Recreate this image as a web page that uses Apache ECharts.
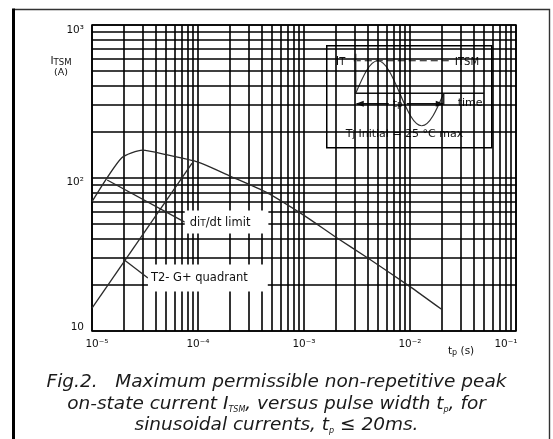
<!DOCTYPE html>
<html>
<head>
<meta charset="utf-8">
<script src="https://cdn.jsdelivr.net/npm/echarts@6/dist/echarts.min.js"></script>
<style>
  html, body { margin: 0; padding: 0; background: #fff; }
  #chart { width: 553px; height: 439px; }
</style>
</head>
<body>
<div id="chart"></div>
<script>
// Peak surge current rating: pulse width tp (s) vs ITSM (A)
const tpMain   = [1e-5, 1.9e-5, 3e-5, 5e-5, 1e-4, 2e-4, 4.5e-4, 1e-3, 2e-3, 4e-3, 1e-2, 2e-2];
const itsmMain = [70, 135, 152, 142, 127, 103, 80, 57, 41, 30, 19.5, 13.8];

// T2- G+ quadrant limit
const tpQuad   = [1e-5, 8.8e-5];
const itsmQuad = [14.1, 125];

// Leader lines from the curves to their annotations
const tpLeadDidt = [1.39e-5, 7.5e-5];
const iLeadDidt  = [97, 51.5];
const tpLeadQuad = [2.05e-5, 3.37e-5];
const iLeadQuad  = [28.9, 22.2];

// Decade tick labels
const xTickExps   = [-5, -4, -3, -2, -1];
const xTickLabels = ['10⁻⁵', '10⁻⁴', '10⁻³', '10⁻²', '10⁻¹'];
const yTickExps   = [1, 2, 3];
const yTickLabels = ['10', '10²', '10³'];

const FONT = '"DejaVu Sans", "Liberation Sans", Arial, sans-serif';
const INK = '#111';

// 1..9 x 10^e gridline values for a log axis
function logGrid(e0, e1) {
  const v = [];
  for (let e = e0; e < e1; e++) {
    for (let m = 1; m <= 9; m++) v.push(m * Math.pow(10, e));
  }
  v.push(Math.pow(10, e1));
  return v;
}
const xGrid = logGrid(-5, -1);
const yGrid = logGrid(1, 3);

const pairs = (xs, ys) => xs.map((x, i) => [x, ys[i]]);

// Quarter-wave cubic approximation of one sine period (inset sketch)
function sineCurves(x0, y0, q, A, style) {
  const k1 = 0.3261, k2 = 0.6381, c = 0.5123;
  const segs = [
    [x0, y0, x0 + k1 * q, y0 - c * A, x0 + k2 * q, y0 - A, x0 + q, y0 - A],
    [x0 + q, y0 - A, x0 + (2 - k2) * q, y0 - A, x0 + (2 - k1) * q, y0 - c * A, x0 + 2 * q, y0],
    [x0 + 2 * q, y0, x0 + (2 + k1) * q, y0 + c * A, x0 + (2 + k2) * q, y0 + A, x0 + 3 * q, y0 + A],
    [x0 + 3 * q, y0 + A, x0 + (4 - k2) * q, y0 + A, x0 + (4 - k1) * q, y0 + c * A, x0 + 4 * q, y0]
  ];
  return segs.map(s => ({
    type: 'bezierCurve',
    shape: { x1: s[0], y1: s[1], cpx1: s[2], cpy1: s[3], cpx2: s[4], cpy2: s[5], x2: s[6], y2: s[7] },
    style: style
  }));
}

const subRich = { fontSize: 9, fontFamily: FONT, color: INK, verticalAlign: 'bottom', lineHeight: 9 };

const chart = echarts.init(document.getElementById('chart'), null, { renderer: 'canvas' });

const curveStyle = { color: '#2a2a2a', width: 1.3 };

const option = {
  animation: false,
  backgroundColor: '#fff',
  grid: {
    left: 92, right: 37, top: 25, bottom: 108,
    show: true, backgroundColor: '#fff', borderColor: '#000', borderWidth: 1.6,
    outerBoundsMode: 'none'
  },
  xAxis: {
    type: 'log', logBase: 10, min: 1e-5, max: 1e-1, interval: 1,
    axisLine: { show: false }, axisTick: { show: false },
    splitLine: { show: false }, minorTick: { show: false },
    nameMoveOverlap: false,
    name: 't{s|p} (s)',
    nameLocation: 'end', nameGap: -68,
    nameTextStyle: {
      fontFamily: FONT, fontSize: 10.5, color: INK,
      align: 'left', verticalAlign: 'top', padding: [15, 0, 0, 0],
      rich: { s: { fontSize: 8, fontFamily: FONT, color: INK, verticalAlign: 'bottom', lineHeight: 8 } }
    },
    axisLabel: {
      margin: 8, showMinLabel: true, showMaxLabel: true,
      fontFamily: FONT, fontSize: 10.5, color: INK,
      formatter: function (v) {
        const e = Math.round(Math.log10(v));
        const i = xTickExps.indexOf(e);
        if (i < 0) return '';
        const st = i === 0 ? 'lo' : (i === xTickExps.length - 1 ? 'hi' : 'n');
        return '{' + st + '|' + xTickLabels[i] + '}';
      },
      rich: {
        n:  { fontFamily: FONT, fontSize: 10.5, color: INK },
        lo: { fontFamily: FONT, fontSize: 10.5, color: INK, padding: [0, 0, 0, 10] },
        hi: { fontFamily: FONT, fontSize: 10.5, color: INK, padding: [0, 20, 0, 0] }
      }
    }
  },
  yAxis: {
    type: 'log', logBase: 10, min: 10, max: 1000, interval: 1,
    axisLine: { show: false }, axisTick: { show: false },
    splitLine: { show: false }, minorTick: { show: false },
    nameMoveOverlap: false,
    name: '{i|I}{s|TSM}\n{a|(A)}',
    nameLocation: 'end', nameGap: -30,
    nameTextStyle: {
      fontFamily: FONT, color: INK, align: 'center', verticalAlign: 'top',
      padding: [0, 62, 0, 0],
      rich: {
        i: { fontSize: 10.5, fontFamily: FONT, color: INK, align: 'center', lineHeight: 12 },
        s: { fontSize: 8.5, fontFamily: FONT, color: INK, align: 'center', verticalAlign: 'bottom', lineHeight: 8 },
        a: { fontSize: 9.5, fontFamily: FONT, color: INK, align: 'center', lineHeight: 12 }
      }
    },
    axisLabel: {
      margin: 8, showMinLabel: true, showMaxLabel: true,
      fontFamily: FONT, fontSize: 10.5, color: INK,
      formatter: function (v) {
        const e = Math.round(Math.log10(v));
        const i = yTickExps.indexOf(e);
        if (i < 0) return '';
        const st = ['b', 'm', 't'][i];
        return '{' + st + '|' + yTickLabels[i] + '}';
      },
      rich: {
        t: { fontFamily: FONT, fontSize: 10.5, color: INK, padding: [10, 0, 0, 0] },
        m: { fontFamily: FONT, fontSize: 10.5, color: INK, padding: [8, 0, 0, 0] },
        b: { fontFamily: FONT, fontSize: 10.5, color: INK, padding: [0, 0, 8, 0] }
      }
    }
  },
  series: [
    {
      // log grid (decades and 2..9 subdivisions)
      name: 'grid', type: 'line', data: [], silent: true, z: 1,
      markLine: {
        silent: true, symbol: 'none', z: 1, animation: false,
        precision: 20,
        label: { show: false },
        emphasis: { disabled: true },
        lineStyle: { color: '#000', width: 1.6, type: 'solid' },
        data: xGrid.map(v => ({ xAxis: v })).concat(yGrid.map(v => ({ yAxis: v })))
      }
    },
    {
      name: 'ITSM', type: 'line', z: 3, silent: true,
      data: pairs(tpMain, itsmMain),
      symbol: 'none', smooth: 0.2,
      lineStyle: curveStyle
    },
    {
      name: 'T2- G+ quadrant', type: 'line', z: 3, silent: true,
      data: pairs(tpQuad, itsmQuad),
      symbol: 'none',
      lineStyle: curveStyle
    },
    {
      name: 'dI/dt leader', type: 'line', z: 4, silent: true,
      data: pairs(tpLeadDidt, iLeadDidt),
      symbol: 'none',
      lineStyle: curveStyle,
      endLabel: {
        show: true, distance: 0,
        formatter: 'di{s|T}/dt limit',
        fontFamily: FONT, fontSize: 11.5, color: INK,
        backgroundColor: '#fff', padding: [6, 18, 5, 5],
        rich: { s: { fontSize: 9, fontFamily: FONT, color: INK, verticalAlign: 'bottom', lineHeight: 9 } }
      }
    },
    {
      name: 'quadrant leader', type: 'line', z: 4, silent: true,
      data: pairs(tpLeadQuad, iLeadQuad),
      symbol: 'none',
      lineStyle: curveStyle,
      endLabel: {
        show: true, distance: 0,
        formatter: 'T2- G+ quadrant',
        fontFamily: FONT, fontSize: 11.5, color: INK,
        backgroundColor: '#fff', padding: [8, 20, 7, 3]
      }
    }
  ],
  graphic: [
    {
      // page frame
      type: 'polyline', z: 50, silent: true,
      shape: { points: [[549.5, 440], [549.5, 9.5], [13.5, 9.5]] },
      style: { fill: null, stroke: '#333', lineWidth: 1.4 }
    },
    {
      type: 'line', z: 50, silent: true,
      shape: { x1: 13.5, y1: 8.5, x2: 13.5, y2: 440 },
      style: { stroke: '#000', lineWidth: 3 }
    },
    {
      // inset: sinusoidal pulse definition
      type: 'group', left: 326, top: 45, z: 100, silent: true,
      children: [
        { type: 'rect', shape: { x: 0, y: 0, width: 165, height: 102 },
          style: { fill: '#fff', stroke: '#000', lineWidth: 1.5 } },
        { type: 'line', shape: { x1: 27, y1: 15, x2: 126, y2: 15 },
          style: { stroke: '#111', lineWidth: 1.2, lineDash: [7, 4] } },
        { type: 'line', shape: { x1: 29, y1: 8, x2: 29, y2: 48 },
          style: { stroke: '#9a9a9a', lineWidth: 2 } },
        { type: 'line', shape: { x1: 29, y1: 47.5, x2: 157, y2: 47.5 },
          style: { stroke: '#111', lineWidth: 1.5 } }
      ].concat(sineCurves(29, 47.5, 22, 32.5, { fill: null, stroke: '#333', lineWidth: 1.2 })).concat([
        { type: 'line', shape: { x1: 117, y1: 47.5, x2: 117, y2: 59 },
          style: { stroke: '#111', lineWidth: 1.3 } },
        { type: 'line', shape: { x1: 30, y1: 58, x2: 62, y2: 58 },
          style: { stroke: '#111', lineWidth: 1.3 } },
        { type: 'line', shape: { x1: 80, y1: 58, x2: 116, y2: 58 },
          style: { stroke: '#111', lineWidth: 1.3 } },
        { type: 'polygon', shape: { points: [[29, 58], [37, 55], [37, 61]] },
          style: { fill: '#111' } },
        { type: 'polygon', shape: { points: [[117, 58], [109, 55], [109, 61]] },
          style: { fill: '#111' } },
        { type: 'text', x: 71, y: 58,
          style: { text: 't{s|p}', font: '11px ' + FONT, fill: INK, align: 'center', verticalAlign: 'middle',
                   rich: { s: subRich } } },
        { type: 'text', x: 9, y: 16,
          style: { text: 'I{s|T}', font: '11.5px ' + FONT, fill: INK, align: 'left', verticalAlign: 'middle',
                   rich: { s: { fontSize: 10, fontFamily: FONT, color: INK, verticalAlign: 'bottom', lineHeight: 10 } } } },
        { type: 'text', x: 128, y: 16,
          style: { text: 'I{s|TSM}', font: '11px ' + FONT, fill: INK, align: 'left', verticalAlign: 'middle',
                   rich: { s: { fontSize: 10, fontFamily: FONT, color: INK, verticalAlign: 'bottom', lineHeight: 10 } } } },
        { type: 'text', x: 131, y: 57,
          style: { text: 'time', font: '11px ' + FONT, fill: INK, align: 'left', verticalAlign: 'middle' } },
        { type: 'text', x: 19, y: 88,
          style: { text: 'T{s|j} Initial = 25 °C max', font: '11px ' + FONT, fill: INK,
                   align: 'left', verticalAlign: 'middle', rich: { s: subRich } } }
      ])
    },
    // caption
    { type: 'text', x: 276.5, y: 382, z: 50, silent: true,
      style: { text: 'Fig.2.   Maximum permissible non-repetitive peak',
               font: 'italic 18.5px ' + FONT, fill: '#1a1a1a', align: 'center', verticalAlign: 'middle' } },
    { type: 'text', x: 276.5, y: 404, z: 50, silent: true,
      style: { text: 'on-state current I{s|TSM}, versus pulse width t{s|p}, for',
               font: 'italic 18.5px ' + FONT, fill: '#1a1a1a', align: 'center', verticalAlign: 'middle',
               rich: { s: { fontSize: 8, fontStyle: 'italic', fontFamily: FONT, color: '#1a1a1a', verticalAlign: 'bottom', lineHeight: 8 } } } },
    { type: 'text', x: 276.5, y: 425, z: 50, silent: true,
      style: { text: 'sinusoidal currents, t{s|p} ≤ 20ms.',
               font: 'italic 18.5px ' + FONT, fill: '#1a1a1a', align: 'center', verticalAlign: 'middle',
               rich: { s: { fontSize: 8, fontStyle: 'italic', fontFamily: FONT, color: '#1a1a1a', verticalAlign: 'bottom', lineHeight: 8 } } } }
  ]
};

chart.setOption(option);
</script>
</body>
</html>
